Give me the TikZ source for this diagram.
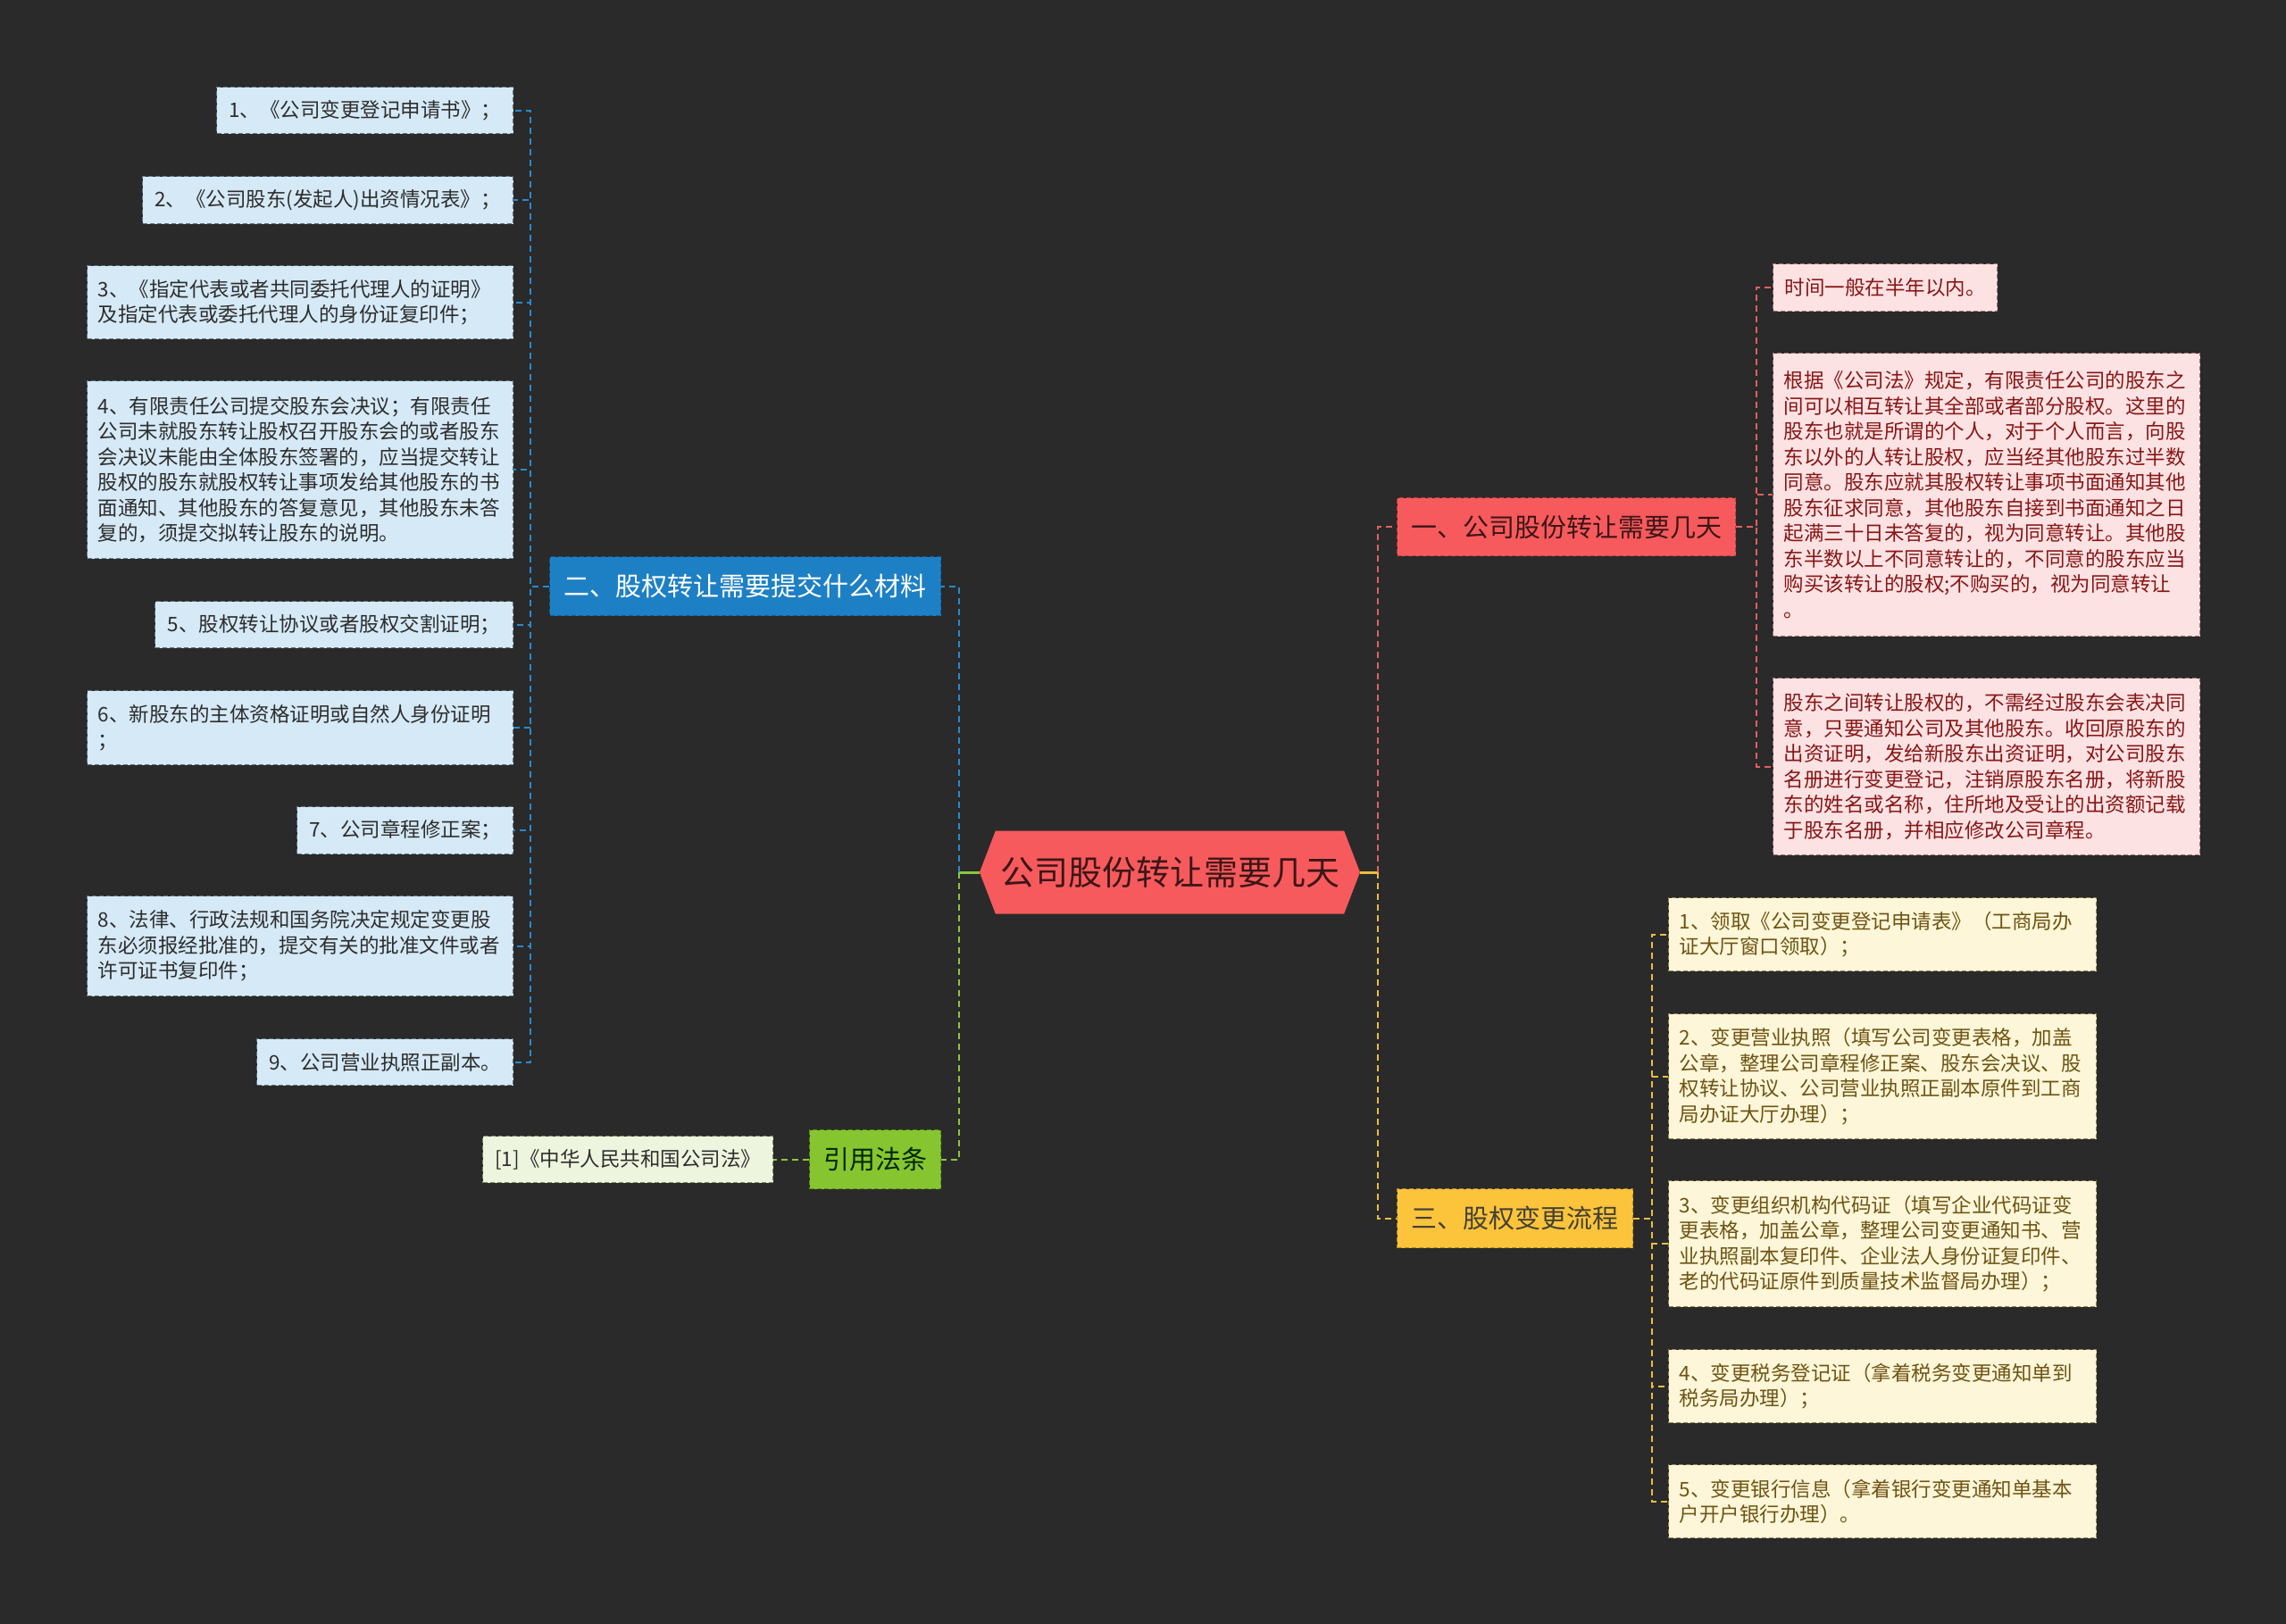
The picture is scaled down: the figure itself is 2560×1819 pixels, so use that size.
\documentclass[tikz,border=0pt]{standalone}
\usepackage{fontspec}
\newfontfamily\cjk{Noto Sans CJK SC}
\usetikzlibrary{shapes.symbols}
\definecolor{bgC}{RGB}{42,42,42}
\definecolor{blueC}{RGB}{30,128,196}
\definecolor{blueD}{RGB}{20,92,150}
\definecolor{blueLine}{RGB}{40,138,208}
\definecolor{bleafC}{RGB}{213,233,246}
\definecolor{bleafD}{RGB}{95,115,130}
\definecolor{redC}{RGB}{247,90,93}
\definecolor{redD}{RGB}{190,60,60}
\definecolor{redLine}{RGB}{226,96,96}
\definecolor{rleafC}{RGB}{253,226,227}
\definecolor{rleafD}{RGB}{170,110,110}
\definecolor{rleafT}{RGB}{135,22,22}
\definecolor{yelC}{RGB}{252,196,58}
\definecolor{yelD}{RGB}{180,140,30}
\definecolor{yelLine}{RGB}{234,190,64}
\definecolor{yleafC}{RGB}{253,246,216}
\definecolor{yleafD}{RGB}{150,130,80}
\definecolor{yleafT}{RGB}{110,84,20}
\definecolor{grnC}{RGB}{134,197,48}
\definecolor{grnD}{RGB}{90,140,30}
\definecolor{grnLine}{RGB}{140,198,63}
\definecolor{gleafC}{RGB}{238,245,222}
\definecolor{gleafD}{RGB}{120,140,100}
\definecolor{darkT}{RGB}{45,45,45}
\definecolor{centerT}{RGB}{60,22,22}
\begin{document}
\begin{tikzpicture}[x=1pt,y=-1pt,
  box/.style={rectangle, dash pattern=on 5pt off 3pt, line width=1.3pt, inner xsep=12pt, inner ysep=0pt, anchor=north west},
  leaffont/.style={font=\cjk\fontsize{22.5}{28.5}\selectfont},
  bleaf/.style={box, leaffont, fill=bleafC, draw=bleafD, text=darkT, align=center},
  rleaf/.style={box, leaffont, fill=rleafC, draw=rleafD, text=rleafT, align=center},
  yleaf/.style={box, leaffont, fill=yleafC, draw=yleafD, text=yleafT, align=center},
  gleaf/.style={box, leaffont, fill=gleafC, draw=gleafD, text=darkT, align=center},
  branch/.style={box, font=\cjk\fontsize{29}{34}\selectfont, align=center},
  conn/.style={line width=2pt, dash pattern=on 7pt off 5pt},
  stub/.style={line width=3pt}
]
\useasboundingbox (0,0) rectangle (2560,1819);
\fill[bgC] (0,0) rectangle (2560,1819);

% center
\node[signal, signal to=west and east, signal pointer angle=138, fill=redC, minimum width=426, minimum height=93, inner sep=0pt, text=centerT, font=\cjk\fontsize{38}{44}\selectfont] (c) at (1310,977) {公司股份转让需要几天};

% branches
\node[branch, fill=blueC, draw=blueD, text=white, minimum width=438, minimum height=66] (b2) at (615,623) {二、股权转让需要提交什么材料};
\node[branch, fill=redC, draw=redD, text=centerT, minimum width=379, minimum height=65] (r1) at (1564,557) {一、公司股份转让需要几天};
\node[branch, fill=yelC, draw=yelD, text=black!85!yellow, minimum width=264, minimum height=66] (y3) at (1564,1331) {三、股权变更流程};
\node[branch, fill=grnC, draw=grnD, text=black!85!green, minimum width=147, minimum height=66] (g) at (906,1265) {引用法条};

% blue leaves
\node[bleaf, minimum width=332, minimum height=52] (l1) at (242,97) {1、《公司变更登记申请书》；};
\node[bleaf, minimum width=415, minimum height=53] (l2) at (159,197) {2、《公司股东(发起人)出资情况表》；};
\node[bleaf, text width=453, align=left, minimum height=82] (l3) at (97,297) {3、《指定代表或者共同委托代理人的证明》\\及指定代表或委托代理人的身份证复印件；};
\node[bleaf, text width=453, align=left, minimum height=199] (l4) at (97,426) {4、有限责任公司提交股东会决议；有限责任\\公司未就股东转让股权召开股东会的或者股东\\会决议未能由全体股东签署的，应当提交转让\\股权的股东就股权转让事项发给其他股东的书\\面通知、其他股东的答复意见，其他股东未答\\复的，须提交拟转让股东的说明。};
\node[bleaf, minimum width=401, minimum height=52] (l5) at (173,673) {5、股权转让协议或者股权交割证明；};
\node[bleaf, text width=453, align=left, minimum height=83] (l6) at (97,773) {6、新股东的主体资格证明或自然人身份证明\\；};
\node[bleaf, minimum width=242, minimum height=53] (l7) at (332,903) {7、公司章程修正案；};
\node[bleaf, text width=453, align=left, minimum height=112] (l8) at (97,1003) {8、法律、行政法规和国务院决定规定变更股\\东必须报经批准的，提交有关的批准文件或者\\许可证书复印件；};
\node[bleaf, minimum width=287, minimum height=52] (l9) at (287,1163) {9、公司营业执照正副本。};

% red leaves
\node[rleaf, minimum width=251, minimum height=53] (ra) at (1985,295) {时间一般在半年以内。};
\node[rleaf, text width=454, align=left, minimum height=317] (rb) at (1985,395) {根据《公司法》规定，有限责任公司的股东之\\间可以相互转让其全部或者部分股权。这里的\\股东也就是所谓的个人，对于个人而言，向股\\东以外的人转让股权，应当经其他股东过半数\\同意。股东应就其股权转让事项书面通知其他\\股东征求同意，其他股东自接到书面通知之日\\起满三十日未答复的，视为同意转让。其他股\\东半数以上不同意转让的，不同意的股东应当\\购买该转让的股权;不购买的，视为同意转让\\。};
\node[rleaf, text width=454, align=left, minimum height=198] (rc) at (1985,759) {股东之间转让股权的，不需经过股东会表决同\\意，只要通知公司及其他股东。收回原股东的\\出资证明，发给新股东出资证明，对公司股东\\名册进行变更登记，注销原股东名册，将新股\\东的姓名或名称，住所地及受让的出资额记载\\于股东名册，并相应修改公司章程。};

% yellow leaves
\node[yleaf, text width=455, align=left, minimum height=82] (ya) at (1868,1005) {1、领取《公司变更登记申请表》（工商局办\\证大厅窗口领取）；};
\node[yleaf, text width=455, align=left, minimum height=140] (yb) at (1868,1135) {2、变更营业执照（填写公司变更表格，加盖\\公章，整理公司章程修正案、股东会决议、股\\权转让协议、公司营业执照正副本原件到工商\\局办证大厅办理）；};
\node[yleaf, text width=455, align=left, minimum height=141] (yc) at (1868,1322) {3、变更组织机构代码证（填写企业代码证变\\更表格，加盖公章，整理公司变更通知书、营\\业执照副本复印件、企业法人身份证复印件、\\老的代码证原件到质量技术监督局办理）；};
\node[yleaf, text width=455, align=left, minimum height=82] (yd) at (1868,1511) {4、变更税务登记证（拿着税务变更通知单到\\税务局办理）；};
\node[yleaf, text width=455, align=left, minimum height=82] (ye) at (1868,1640) {5、变更银行信息（拿着银行变更通知单基本\\户开户银行办理）。};

% green leaf
\node[gleaf, minimum width=325, minimum height=52] (ga) at (540,1272) {[1]《中华人民共和国公司法》};

% junctions
\coordinate (jL) at (1074,977);
\coordinate (jR) at (1543,977);

% center stubs
\draw[stub, grnLine] (c.west) -- (jL);
\draw[stub, yelLine] (c.east) -- (jR);

% main connectors
\draw[conn, blueLine] (jL) |- (b2.east);
\draw[conn, grnLine] (jL) |- (g.east);
\draw[conn, redLine] (jR) |- (r1.west);
\draw[conn, yelLine] (jR) |- (y3.west);

% blue leaf connectors
\foreach \n in {l1,l2,l3,l4,l5,l6,l7,l8,l9}
  \draw[conn, blueLine] (b2.west) -- ++(-21,0) |- (\n.east);
% red leaf connectors
\foreach \n in {ra,rb,rc}
  \draw[conn, redLine] (r1.east) -- ++(23,0) |- (\n.west);
% yellow leaf connectors
\foreach \n in {ya,yb,yc,yd,ye}
  \draw[conn, yelLine] (y3.east) -- ++(21,0) |- (\n.west);
% green leaf connector
\draw[conn, grnLine] (g.west) -- (ga.east);
\end{tikzpicture}
\end{document}
